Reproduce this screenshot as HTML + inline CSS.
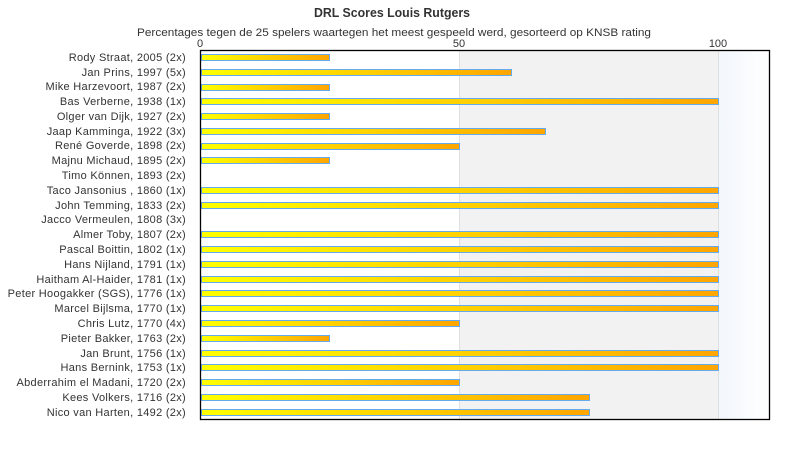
<!DOCTYPE html>
<html><head><meta charset="utf-8"><style>
html,body{margin:0;padding:0;background:#fff;}
svg{display:block;}
text{font-family:"Liberation Sans",sans-serif;fill:#333;}
</style></head><body>
<svg width="790" height="450" viewBox="0 0 790 450" xmlns="http://www.w3.org/2000/svg">
<defs>
<linearGradient id="bg100" x1="0" y1="0" x2="1" y2="0">
<stop offset="0" stop-color="#f2f7fc"/><stop offset="1" stop-color="#ffffff"/>
</linearGradient>
<linearGradient id="bar" x1="0" y1="0" x2="1" y2="0">
<stop offset="0" stop-color="#ffff00"/><stop offset="1" stop-color="#ffa500"/>
</linearGradient>
</defs>
<rect x="0" y="0" width="790" height="450" fill="#fff"/>
<text x="392" y="17" text-anchor="middle" font-size="12.5" font-weight="bold" textLength="156" lengthAdjust="spacingAndGlyphs">DRL Scores Louis Rutgers</text>
<text x="394" y="36" text-anchor="middle" font-size="11" textLength="514" lengthAdjust="spacingAndGlyphs">Percentages tegen de 25 spelers waartegen het meest gespeeld werd, gesorteerd op KNSB rating</text>
<text x="200" y="47" text-anchor="middle" font-size="11">0</text>
<text x="459" y="47" text-anchor="middle" font-size="11">50</text>
<text x="718" y="47" text-anchor="middle" font-size="11">100</text>
<rect x="459" y="50" width="259" height="370" fill="#f2f2f2"/>
<rect x="718" y="50" width="52" height="370" fill="url(#bg100)"/>
<line x1="459.5" y1="50" x2="459.5" y2="420" stroke="#e0e0e0" stroke-width="1"/>
<line x1="718.5" y1="50" x2="718.5" y2="420" stroke="#e0e0e0" stroke-width="1"/>
<g font-size="11" text-anchor="end" letter-spacing="0.3">
<text x="186" y="61">Rody Straat, 2005 (2x)</text>
<text x="186" y="76">Jan Prins, 1997 (5x)</text>
<text x="186" y="90">Mike Harzevoort, 1987 (2x)</text>
<text x="186" y="105">Bas Verberne, 1938 (1x)</text>
<text x="186" y="120">Olger van Dijk, 1927 (2x)</text>
<text x="186" y="135">Jaap Kamminga, 1922 (3x)</text>
<text x="186" y="149">René Goverde, 1898 (2x)</text>
<text x="186" y="164">Majnu Michaud, 1895 (2x)</text>
<text x="186" y="179">Timo Können, 1893 (2x)</text>
<text x="186" y="194">Taco Jansonius , 1860 (1x)</text>
<text x="186" y="209">John Temming, 1833 (2x)</text>
<text x="186" y="223">Jacco Vermeulen, 1808 (3x)</text>
<text x="186" y="238">Almer Toby, 1807 (2x)</text>
<text x="186" y="253">Pascal Boittin, 1802 (1x)</text>
<text x="186" y="268">Hans Nijland, 1791 (1x)</text>
<text x="186" y="283">Haitham Al-Haider, 1781 (1x)</text>
<text x="186" y="297">Peter Hoogakker (SGS), 1776 (1x)</text>
<text x="186" y="312">Marcel Bijlsma, 1770 (1x)</text>
<text x="186" y="327">Chris Lutz, 1770 (4x)</text>
<text x="186" y="342">Pieter Bakker, 1763 (2x)</text>
<text x="186" y="357">Jan Brunt, 1756 (1x)</text>
<text x="186" y="371">Hans Bernink, 1753 (1x)</text>
<text x="186" y="386">Abderrahim el Madani, 1720 (2x)</text>
<text x="186" y="401">Kees Volkers, 1716 (2x)</text>
<text x="186" y="416">Nico van Harten, 1492 (2x)</text>
</g>
<g stroke="#66aaee" stroke-width="1" fill="url(#bar)">
<rect x="201.5" y="54.5" width="128" height="6"/>
<rect x="201.5" y="69.5" width="310" height="6"/>
<rect x="201.5" y="84.5" width="128" height="6"/>
<rect x="201.5" y="98.5" width="517" height="6"/>
<rect x="201.5" y="113.5" width="128" height="6"/>
<rect x="201.5" y="128.5" width="344" height="6"/>
<rect x="201.5" y="143.5" width="258" height="6"/>
<rect x="201.5" y="157.5" width="128" height="6"/>
<rect x="201.5" y="187.5" width="517" height="6"/>
<rect x="201.5" y="202.5" width="517" height="6"/>
<rect x="201.5" y="231.5" width="517" height="6"/>
<rect x="201.5" y="246.5" width="517" height="6"/>
<rect x="201.5" y="261.5" width="517" height="6"/>
<rect x="201.5" y="276.5" width="517" height="6"/>
<rect x="201.5" y="290.5" width="517" height="6"/>
<rect x="201.5" y="305.5" width="517" height="6"/>
<rect x="201.5" y="320.5" width="258" height="6"/>
<rect x="201.5" y="335.5" width="128" height="6"/>
<rect x="201.5" y="350.5" width="517" height="6"/>
<rect x="201.5" y="364.5" width="517" height="6"/>
<rect x="201.5" y="379.5" width="258" height="6"/>
<rect x="201.5" y="394.5" width="388" height="6"/>
<rect x="201.5" y="409.5" width="388" height="6"/>
</g>
<rect x="200.5" y="50.5" width="569" height="369" fill="none" stroke="#000" stroke-width="1.3"/>
</svg>
</body></html>
